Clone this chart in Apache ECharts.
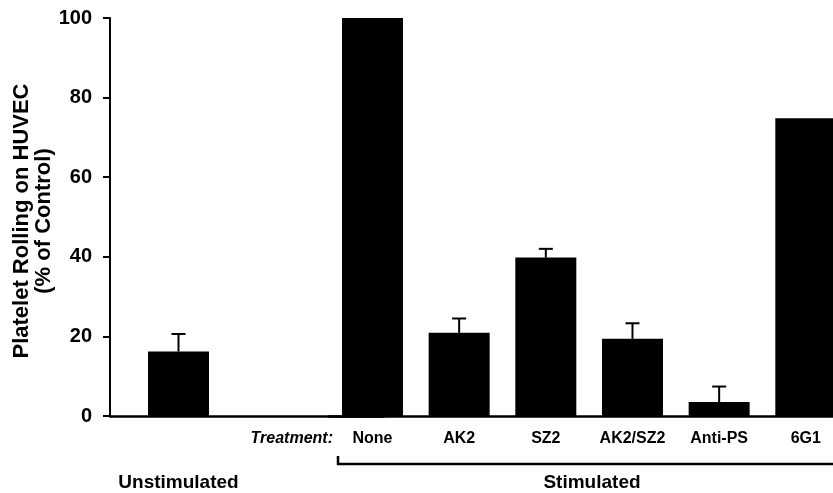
<!DOCTYPE html>
<html>
<head>
<meta charset="utf-8">
<script src="https://cdn.jsdelivr.net/npm/echarts@6/dist/echarts.min.js"></script>
<style>html,body{margin:0;padding:0;background:#fff}#c{width:833px;height:493px}</style>
</head>
<body>
<div id="c"></div>
<script>
// ---- data ----
const unstimCategories = ['Unstimulated', ''];
const unstimValues = [16.2, null];
const unstimErrors = [4.4, null];

const stimCategories = ['None', 'AK2', 'SZ2', 'AK2/SZ2', 'Anti-PS', '6G1'];
const stimValues = [100, 20.9, 39.8, 19.4, 3.5, 74.8];
const stimErrors = [0, 3.6, 2.2, 3.9, 3.9, 0];

const yMin = 0, yMax = 100, yStep = 20;
const yTitle = ['Platelet Rolling on HUVEC', '(% of Control)'];
const treatmentLabel = 'Treatment:';
const stimGroupLabel = 'Stimulated';

// ---- chart ----
const FONT = '"Liberation Sans", Arial, Helvetica, sans-serif';
const chart = echarts.init(document.getElementById('c'), null, {renderer: 'canvas'});

function errRender(values, errors) {
  return function (params, api) {
    const i = api.value(0);
    const v = values[i], e = errors[i];
    if (v == null || !e) return null;
    const p0 = api.coord([i, v]);
    const p1 = api.coord([i, v + e]);
    const half = 7;
    return {
      type: 'group',
      children: [
        {type: 'line', shape: {x1: p0[0], y1: p0[1], x2: p1[0], y2: p1[1]}, style: {stroke: '#000', lineWidth: 2}},
        {type: 'line', shape: {x1: p1[0] - half, y1: p1[1], x2: p1[0] + half, y2: p1[1]}, style: {stroke: '#000', lineWidth: 2}}
      ]
    };
  };
}

const yBase = {
  type: 'value', min: yMin, max: yMax, interval: yStep,
  splitLine: {show: false}
};

chart.setOption({
  animation: false,
  backgroundColor: '#fff',
  grid: [
    {left: 110, width: 274, top: 18, bottom: 77, containLabel: false, outerBoundsMode: 'none'},
    {left: 329.15, width: 520, top: 18, bottom: 77, containLabel: false, outerBoundsMode: 'none'}
  ],
  xAxis: [
    {
      type: 'category', gridIndex: 0, data: unstimCategories,
      axisLine: {lineStyle: {color: '#000', width: 2.5}},
      axisTick: {show: false},
      axisLabel: {color: '#000', fontFamily: FONT, fontWeight: 'bold', fontSize: 19, lineHeight: 19, margin: 57, interval: 0}
    },
    {
      type: 'category', gridIndex: 1, data: stimCategories,
      axisLine: {lineStyle: {color: '#000', width: 2.5}},
      axisTick: {show: false},
      axisLabel: {color: '#000', fontFamily: FONT, fontWeight: 'bold', fontSize: 16, lineHeight: 16, margin: 15, interval: 0}
    }
  ],
  yAxis: [
    Object.assign({}, yBase, {
      gridIndex: 0,
      axisLine: {show: true, lineStyle: {color: '#000', width: 2}},
      axisTick: {show: true, length: 7, lineStyle: {color: '#000', width: 2}},
      axisLabel: {color: '#000', fontFamily: FONT, fontWeight: 'bold', fontSize: 20, margin: 18}
    }),
    Object.assign({}, yBase, {
      gridIndex: 1, show: false
    })
  ],
  series: [
    {type: 'bar', xAxisIndex: 0, yAxisIndex: 0, data: unstimValues, barWidth: 61, itemStyle: {color: '#000'}, z: 2},
    {type: 'bar', xAxisIndex: 1, yAxisIndex: 1, data: stimValues, barWidth: 61, itemStyle: {color: '#000'}, z: 2},
    {type: 'custom', xAxisIndex: 0, yAxisIndex: 0, data: unstimValues.map((v, i) => [i, v]), renderItem: errRender(unstimValues, unstimErrors), z: 3},
    {type: 'custom', xAxisIndex: 1, yAxisIndex: 1, data: stimValues.map((v, i) => [i, v]), renderItem: errRender(stimValues, stimErrors), z: 3}
  ],
  graphic: [
    {type: 'text', x: 22, y: 221, rotation: Math.PI / 2,
      style: {text: yTitle[0], fill: '#000', font: 'bold 22px ' + FONT, textAlign: 'center', textVerticalAlign: 'middle'}},
    {type: 'text', x: 44, y: 221, rotation: Math.PI / 2,
      style: {text: yTitle[1], fill: '#000', font: 'bold 22px ' + FONT, textAlign: 'center', textVerticalAlign: 'middle'}},
    {type: 'text', x: 333, y: 439,
      style: {text: treatmentLabel, fill: '#000', font: 'italic bold 16px ' + FONT, textAlign: 'right', textVerticalAlign: 'middle'}},
    {type: 'polyline', shape: {points: [[338, 456], [338, 464], [840, 464]]},
      style: {stroke: '#000', lineWidth: 2.5, fill: null}},
    {type: 'text', x: 592, y: 483,
      style: {text: stimGroupLabel, fill: '#000', font: 'bold 19px ' + FONT, textAlign: 'center', textVerticalAlign: 'middle'}}
  ]
});
</script>
</body>
</html>
